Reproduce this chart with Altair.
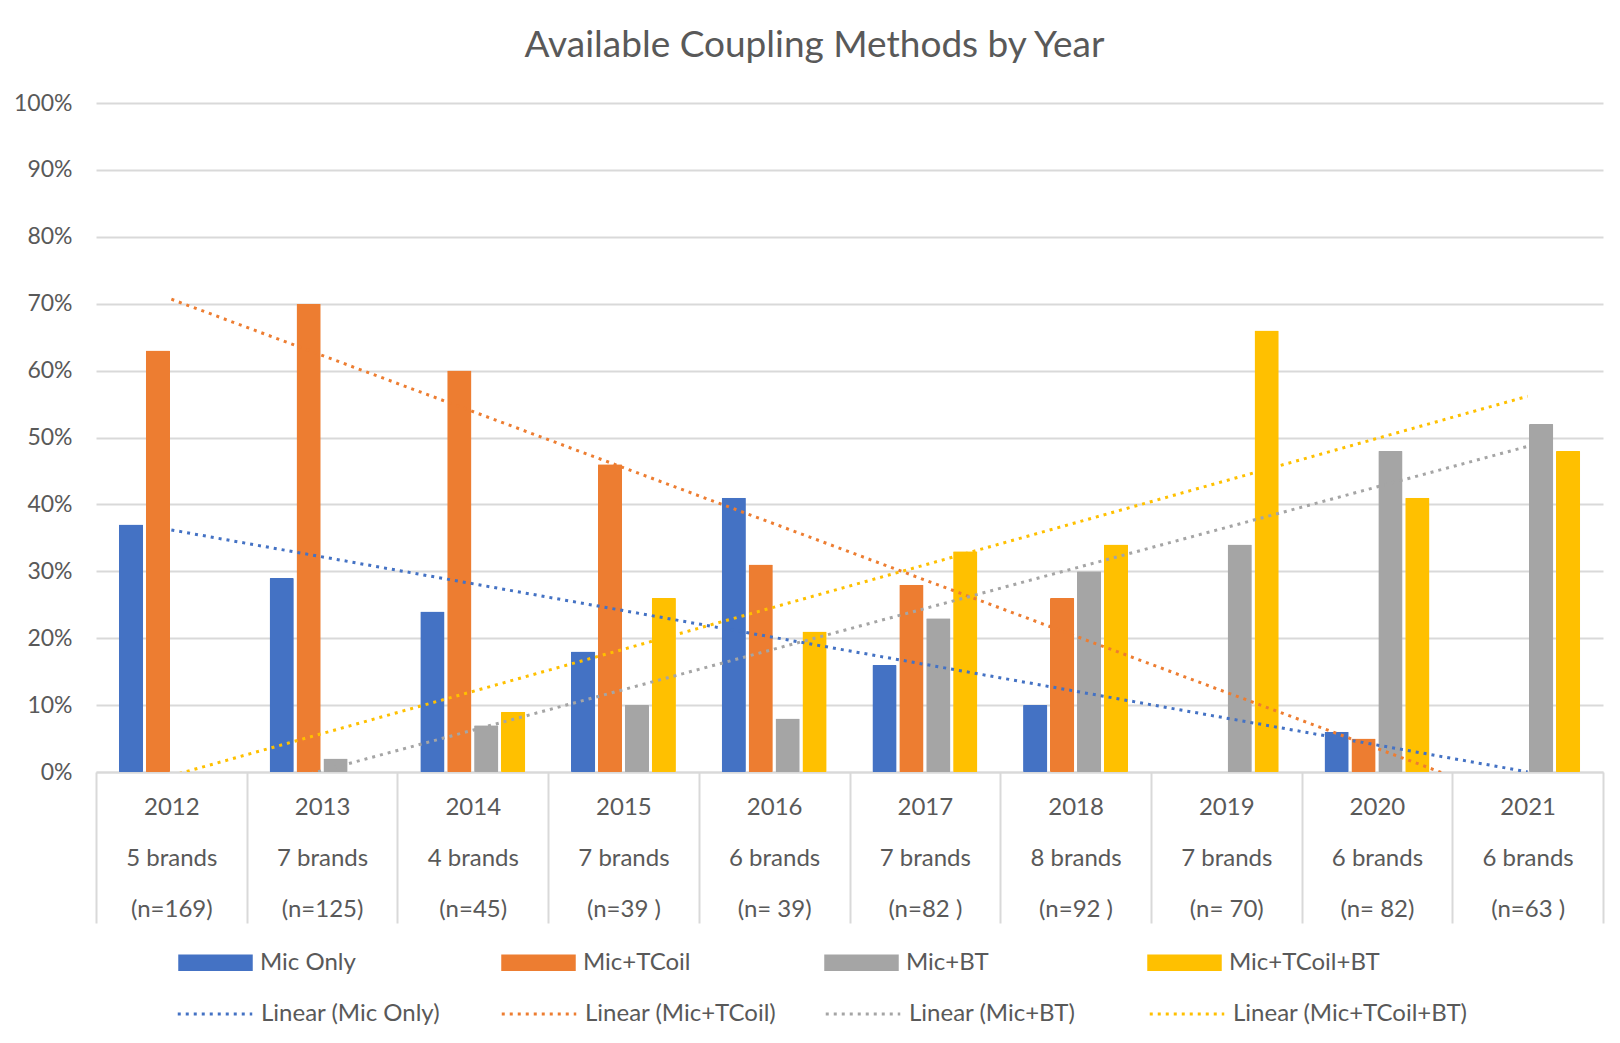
import altair as alt
import pandas as pd

years = [2012, 2013, 2014, 2015, 2016, 2017, 2018, 2019, 2020, 2021]
brands = ["5 brands", "7 brands", "4 brands", "7 brands", "6 brands",
          "7 brands", "8 brands", "7 brands", "6 brands", "6 brands"]
samples = ["(n=169)", "(n=125)", "(n=45)", "(n=39 )", "(n= 39)",
           "(n=82 )", "(n=92 )", "(n= 70)", "(n= 82)", "(n=63 )"]

series_names = ["Mic Only", "Mic+TCoil", "Mic+BT", "Mic+TCoil+BT"]
mic_only = [37, 29, 24, 18, 41, 16, 10, 0, 6, 0]
mic_tcoil = [63, 70, 60, 46, 31, 28, 26, 0, 5, 0]
mic_bt = [0, 2, 7, 10, 8, 23, 30, 34, 48, 52]
mic_tcoil_bt = [0, 0, 9, 26, 21, 33, 34, 66, 41, 48]
colors = ["#4472C4", "#ED7D31", "#A5A5A5", "#FFC000"]
trend_names = ["Linear (" + s + ")" for s in series_names]

rows = []
for name, vals in zip(series_names, [mic_only, mic_tcoil, mic_bt, mic_tcoil_bt]):
    for y, v in zip(years, vals):
        rows.append({"year": y, "series": name, "pct": v / 100})
df = pd.DataFrame(rows)

FONT = "Lato"
GREY = "#595959"
LINE = "#D9D9D9"

years_js = "[" + ",".join(str(y) for y in years) + "]"
brands_js = "[" + ",".join("'" + b + "'" for b in brands) + "]"
samples_js = "[" + ",".join("'" + s + "'" for s in samples) + "]"
label_expr = (f"[datum.label, {brands_js}[indexof({years_js}, datum.value)], "
              f"{samples_js}[indexof({years_js}, datum.value)]]")

x_enc = alt.X("year:O", title=None,
              scale=alt.Scale(paddingInner=0, paddingOuter=0),
              axis=alt.Axis(labelAngle=0, labelExpr=label_expr,
                            labelFontSize=24, labelColor=GREY, labelFont=FONT,
                            labelLineHeight=51, labelPadding=-128, labelBaseline="top",
                            tickBand="extent", tickSize=151, tickColor=LINE, tickWidth=2,
                            domainColor=LINE, domainWidth=2, grid=False))
y_enc = alt.Y("pct:Q", title=None,
              scale=alt.Scale(domain=[0, 1], nice=False),
              axis=alt.Axis(values=[i / 10 for i in range(11)], format=".0%",
                            labelFontSize=23, labelColor=GREY, labelFont=FONT,
                            labelPadding=24, domain=False, ticks=False,
                            gridColor=LINE, gridWidth=2))

base = alt.Chart(df)

bars = base.mark_bar(cornerRadius=1).encode(
    x=x_enc,
    y=y_enc,
    xOffset=alt.XOffset("series:N", sort=series_names,
                        scale=alt.Scale(domain=series_names, paddingInner=0.1, paddingOuter=0.85)),
    fill=alt.Fill("series:N", sort=series_names,
                  scale=alt.Scale(domain=series_names, range=colors),
                  legend=alt.Legend(title=None, orient="none", legendX=82, legendY=822,
                                    direction="horizontal", columns=4, gridAlign="all",
                                    columnPadding=90, labelLimit=400,
                                    symbolType="M-1,-0.22H1V0.22H-1Z", symbolSize=5550,
                                    symbolStrokeWidth=0, labelOffset=7,
                                    labelFontSize=24, labelColor=GREY, labelFont=FONT)),
)

trends = base.transform_regression(
    "year", "pct", groupby=["series"], method="linear"
).transform_calculate(
    trend='"Linear (" + datum.series + ")"'
).mark_line(strokeDash=[3, 5], strokeWidth=3, clip=True).encode(
    x=alt.X("year:O"),
    y=alt.Y("pct:Q"),
    stroke=alt.Stroke("trend:N", sort=trend_names,
                      scale=alt.Scale(domain=trend_names, range=colors),
                      legend=alt.Legend(title=None, orient="none", legendX=80, legendY=872,
                                        direction="horizontal", columns=4, gridAlign="all",
                                        columnPadding=-1, labelLimit=400,
                                        symbolType="stroke", symbolSize=5550,
                                        symbolStrokeWidth=3, symbolDash=[3, 5], labelOffset=7,
                                        labelFontSize=24, labelColor=GREY, labelFont=FONT)),
)

chart = alt.layer(bars, trends).properties(
    width=1507, height=669,
    background="white",
    autosize=alt.AutoSizeParams(type="none"),
    padding={"left": 88, "top": 95, "right": 9, "bottom": 263},
    title=alt.TitleParams("Available Coupling Methods by Year", fontSize=37, color=GREY,
                          font=FONT, fontWeight="normal", anchor="middle", dx=-35, offset=27),
).configure_view(stroke=None)

chart.save("out.html", embed_options={"renderer": "svg", "actions": False})
